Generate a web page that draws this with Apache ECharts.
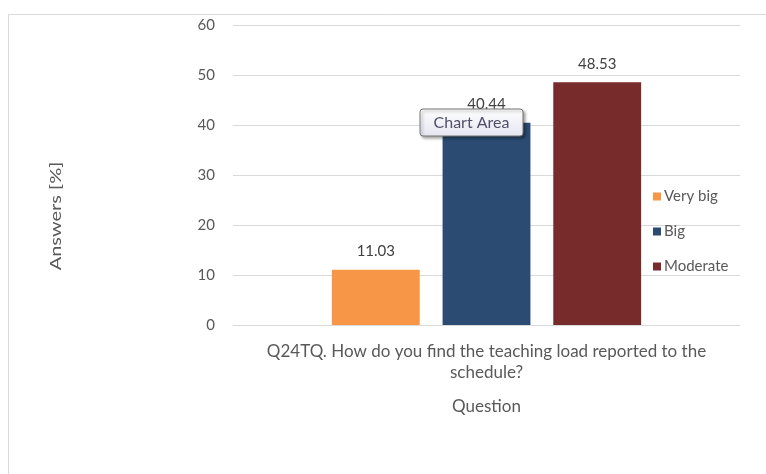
<!DOCTYPE html>
<html>
<head>
<meta charset="utf-8">
<script src="https://cdn.jsdelivr.net/npm/echarts@6/dist/echarts.min.js"></script>
<style>
  html, body { margin: 0; padding: 0; background: #ffffff; }
  #chart { width: 766px; height: 474px; }
</style>
</head>
<body>
<div id="chart"></div>
<script>
// Survey answers for one question, one bar per answer option
const categories = ['Q24TQ. How do you find the teaching load reported to the\nschedule?'];
const seriesNames = ['Very big', 'Big', 'Moderate'];
const seriesValues = [[11.03], [40.44], [48.53]];
const seriesColors = ['#F79646', '#2B4B72', '#772B2A'];
const yTicks = { min: 0, max: 60, interval: 10 };

const FONT = "Lato, 'Open Sans', sans-serif";
const TEXT = '#595959';

const chart = echarts.init(document.getElementById('chart'), null, { renderer: 'canvas' });

const series = seriesNames.map((name, i) => ({
  name: name,
  type: 'bar',
  data: seriesValues[i],
  itemStyle: { color: seriesColors[i] },
  barGap: '26%',
  barCategoryGap: '39%',
  label: {
    show: true,
    position: 'top',
    distance: 11,
    color: '#404040',
    fontFamily: FONT,
    fontSize: 15,
    formatter: p => p.value.toFixed(2)
  },
  emphasis: { disabled: true }
}));

chart.setOption({
  animation: false,
  backgroundColor: '#ffffff',
  grid: { left: 233, right: 26, top: 25, bottom: 149, containLabel: false },
  xAxis: {
    type: 'category',
    data: categories,
    axisLine: { show: true, lineStyle: { color: '#d9d9d9' } },
    axisTick: { show: false },
    axisLabel: {
      color: TEXT, fontFamily: FONT, fontSize: 17, lineHeight: 21, margin: 16,
      align: 'center'
    },
    name: 'Question',
    nameLocation: 'middle',
    nameGap: 73,
    nameTextStyle: { color: TEXT, fontFamily: FONT, fontSize: 17 }
  },
  yAxis: {
    type: 'value',
    min: yTicks.min, max: yTicks.max, interval: yTicks.interval,
    axisLine: { show: false },
    axisTick: { show: false },
    splitLine: { lineStyle: { color: '#d9d9d9', width: 1 } },
    axisLabel: { color: TEXT, fontFamily: FONT, fontSize: 15, margin: 18 }
  },
  legend: {
    orient: 'vertical',
    left: 648,
    top: 184,
    itemWidth: 8,
    itemHeight: 8,
    itemGap: 20,
    icon: 'rect',
    textStyle: { color: TEXT, fontFamily: FONT, fontSize: 15, padding: [0, 0, 0, -2] },
    data: seriesNames
  },
  graphic: [
    // chart area frame (left and top edges)
    { type: 'line', shape: { x1: 8.5, y1: 14.5, x2: 766, y2: 14.5 }, style: { stroke: '#d9d9d9', lineWidth: 1 }, z: 0 },
    { type: 'line', shape: { x1: 8.5, y1: 14.5, x2: 8.5, y2: 474 }, style: { stroke: '#d9d9d9', lineWidth: 1 }, z: 0 },
    // y-axis title
    {
      type: 'text', x: 56, y: 216, rotation: Math.PI / 2, scaleX: 1.25,
      style: { text: 'Answers [%]', fill: TEXT, font: "16px " + FONT, align: 'center', verticalAlign: 'middle' }
    },
    // hover hint box
    {
      type: 'rect', x: 420, y: 109, zlevel: 1, z: 100,
      shape: { x: 0, y: 0, width: 103, height: 27, r: 3 },
      style: {
        fill: { type: 'linear', x: 0, y: 0, x2: 0, y2: 1, colorStops: [{ offset: 0, color: '#ffffff' }, { offset: 1, color: '#e4e5f0' }] },
        stroke: '#767676', lineWidth: 1,
        shadowBlur: 3, shadowOffsetX: 2, shadowOffsetY: 2, shadowColor: 'rgba(0,0,0,0.35)'
      }
    },
    {
      type: 'text', x: 471.5, y: 123, zlevel: 1, z: 101,
      style: { text: 'Chart Area', fill: '#4f5068', font: "16px " + FONT, align: 'center', verticalAlign: 'middle' }
    }
  ],
  series: series
});
</script>
</body>
</html>
